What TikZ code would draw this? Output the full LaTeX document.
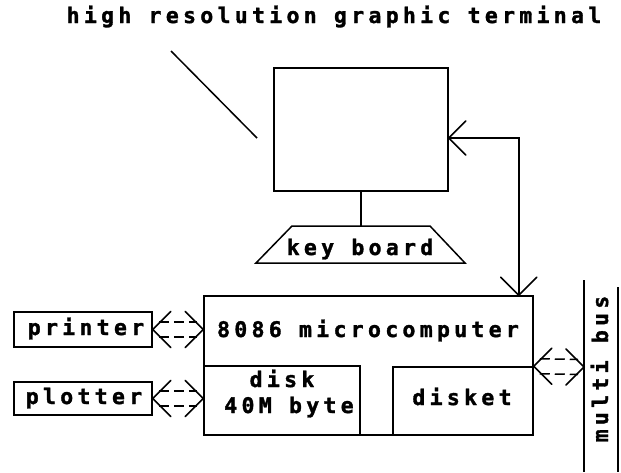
\documentclass[tikz,border=0pt]{standalone}
\usepackage{fontspec}
\usetikzlibrary{calc}
\newfontfamily\plotfont[LetterSpace=20,FakeBold=1.5]{DejaVu Sans Mono Bold}
\tikzset{
  box/.style={draw, line width=1.5pt, inner sep=0pt},
  lbl/.style={font=\plotfont\fontsize{21.5}{24}\selectfont, inner sep=0pt},
  conn/.style={line width=1.5pt},
}
\newcommand\vtip[3]{%
  \draw[conn, line cap=round] ($(#1)+(#2,#3)$) -- (#1) -- ($(#1)+(#2,-#3)$);
}
\newcommand\vtipv[3]{%
  \draw[conn, line cap=round] ($(#1)+(#3,#2)$) -- (#1) -- ($(#1)+(-#3,#2)$);
}
\newcommand\dblarrow[2]{%
  \vtip{#1}{18}{18}
  \vtip{#2}{-18}{18}
  \draw[conn,dash pattern=on 10pt off 5pt] ($(#1)+(6,-7.5)$) -- ($(#2)+(-6,-7.5)$);
  \draw[conn,dash pattern=on 10pt off 5pt] ($(#1)+(6,7.5)$) -- ($(#2)+(-6,7.5)$);
}
\begin{document}
\begin{tikzpicture}[x=1pt,y=-1pt]
\useasboundingbox (0,0) rectangle (621,472);
% title
\node[lbl, anchor=base] (title) at (334,23) {high resolution graphic terminal};
\coordinate (diagA) at (171,51);
\coordinate (diagB) at (257,138);
\draw[conn] (diagA) -- (diagB);
% monitor
\node[box, minimum width=174pt, minimum height=123pt] (monitor) at (361,129.5) {};
% keyboard
\coordinate (kbtop) at (361,226);
\draw[conn] (292,226) -- (430,226) -- (465,263) -- (256,263) -- cycle;
\node[lbl, anchor=base] (kb) at (360,255) {key board};
\draw[conn] (monitor.south) -- (kbtop);
% microcomputer
\node[box, minimum width=329pt, minimum height=139pt] (micro) at (368.5,365.5) {};
\node[lbl, anchor=base] (microtxt) at (368,337) {8086 microcomputer};
\node[box, minimum width=156pt, minimum height=69pt] (disk) at (282,400.5) {};
\node[lbl, anchor=base] (disktxt1) at (282,387) {disk};
\node[lbl, anchor=base] (disktxt2) at (289,413) {40M byte};
\node[box, minimum width=140pt, minimum height=68pt] (disket) at (463,401) {};
\node[lbl, anchor=base] (diskettxt) at (462,405) {disket};
% printer / plotter
\node[box, minimum width=138pt, minimum height=35pt] (printer) at (83,329.5) {};
\node[lbl, anchor=base] (printertxt) at (86,335) {printer};
\node[box, minimum width=138pt, minimum height=33pt] (plotter) at (83,398.5) {};
\node[lbl, anchor=base] (plottertxt) at (84,404) {plotter};
% bus
\draw[conn] (584,280) -- (584,472);
\draw[conn] (618,287) -- (618,472);
\node[lbl, rotate=90, anchor=base] (bustxt) at (608,369) {multi bus};
\coordinate (busin) at (584,367);
% connectors
\coordinate (monin) at ([yshift=-8.5pt]monitor.east);
\coordinate (microin) at ([xshift=-15pt]micro.north east);
\draw[conn] (monin) -| (microin);
\vtip{monin}{17}{17}
\vtipv{microin}{-18}{18}
\coordinate (pR) at (micro.west |- printer.east);
\coordinate (qR) at (disk.west |- plotter.east);
\dblarrow{printer.east}{pR}
\dblarrow{plotter.east}{qR}
\dblarrow{disket.north east}{busin}
\end{tikzpicture}
\end{document}
